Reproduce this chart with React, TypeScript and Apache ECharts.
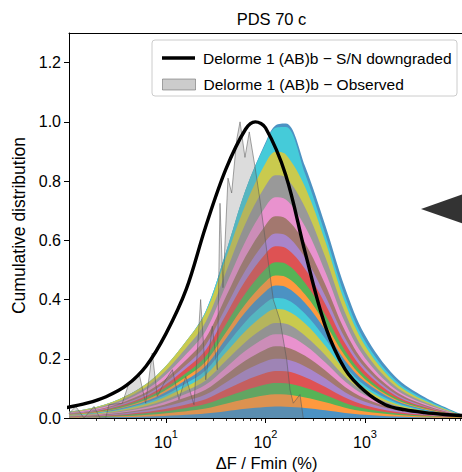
import React, { useEffect, useRef } from 'react';
import * as echarts from 'echarts';

const TITLE = 'PDS 70 c';
const X_LABEL = 'ΔF / Fmin (%)';
const Y_LABEL = 'Cumulative distribution';
const LEGEND_MODEL = 'Delorme 1 (AB)b − S/N downgraded';
const LEGEND_OBS = 'Delorme 1 (AB)b − Observed';

const X_MIN = 1.06;
const X_MAX = 9890;
const Y_MIN = 0;
const Y_MAX = 1.3;

const xMajorTicks = [10, 100, 1000];
const xMinorTicks = [
  2, 3, 4, 5, 6, 7, 8, 9,
  20, 30, 40, 50, 60, 70, 80, 90,
  200, 300, 400, 500, 600, 700, 800, 900,
  2000, 3000, 4000, 5000, 6000, 7000, 8000, 9000,
];
const yTicks = [0, 0.2, 0.4, 0.6, 0.8, 1.0, 1.2];

// Stacked cumulative tops of the 21 layers
const bandX = [1, 2, 4, 8, 16, 25, 40, 63, 100, 126, 160, 250, 400, 630, 1000, 2000, 4000, 10000];
const band01 = [0.001, 0.002, 0.003, 0.006, 0.011, 0.015, 0.023, 0.031, 0.037, 0.039, 0.038, 0.034, 0.026, 0.017, 0.011, 0.005, 0.002, 0.0];
const band02 = [0.002, 0.003, 0.007, 0.013, 0.023, 0.032, 0.048, 0.064, 0.077, 0.080, 0.079, 0.069, 0.053, 0.035, 0.022, 0.011, 0.005, 0.001];
const band03 = [0.003, 0.005, 0.010, 0.019, 0.034, 0.047, 0.071, 0.094, 0.113, 0.118, 0.117, 0.102, 0.078, 0.051, 0.032, 0.016, 0.008, 0.001];
const band04 = [0.004, 0.007, 0.013, 0.025, 0.046, 0.063, 0.096, 0.127, 0.152, 0.159, 0.158, 0.138, 0.105, 0.069, 0.043, 0.021, 0.010, 0.001];
const band05 = [0.004, 0.008, 0.017, 0.032, 0.058, 0.079, 0.120, 0.161, 0.192, 0.200, 0.198, 0.174, 0.133, 0.087, 0.055, 0.027, 0.013, 0.001];
const band06 = [0.005, 0.010, 0.020, 0.038, 0.070, 0.095, 0.145, 0.194, 0.231, 0.242, 0.239, 0.210, 0.160, 0.105, 0.066, 0.032, 0.016, 0.002];
const band07 = [0.006, 0.012, 0.024, 0.045, 0.082, 0.112, 0.170, 0.227, 0.271, 0.283, 0.280, 0.246, 0.187, 0.123, 0.077, 0.038, 0.018, 0.002];
const band08 = [0.007, 0.013, 0.027, 0.051, 0.093, 0.127, 0.193, 0.257, 0.307, 0.321, 0.318, 0.278, 0.212, 0.139, 0.087, 0.043, 0.021, 0.002];
const band09 = [0.008, 0.015, 0.031, 0.058, 0.106, 0.145, 0.221, 0.294, 0.352, 0.368, 0.364, 0.319, 0.243, 0.160, 0.100, 0.049, 0.024, 0.002];
const band10 = [0.009, 0.017, 0.034, 0.064, 0.117, 0.160, 0.244, 0.325, 0.388, 0.405, 0.401, 0.352, 0.268, 0.176, 0.110, 0.054, 0.026, 0.003];
const band11 = [0.010, 0.018, 0.037, 0.071, 0.129, 0.176, 0.268, 0.358, 0.427, 0.447, 0.442, 0.388, 0.296, 0.194, 0.122, 0.060, 0.029, 0.003];
const band12 = [0.011, 0.020, 0.040, 0.077, 0.139, 0.190, 0.289, 0.385, 0.460, 0.481, 0.476, 0.417, 0.318, 0.209, 0.131, 0.064, 0.031, 0.003];
const band13 = [0.012, 0.022, 0.044, 0.084, 0.152, 0.208, 0.316, 0.421, 0.503, 0.526, 0.521, 0.456, 0.348, 0.228, 0.143, 0.070, 0.034, 0.004];
const band14 = [0.013, 0.024, 0.048, 0.092, 0.168, 0.229, 0.348, 0.464, 0.555, 0.580, 0.574, 0.503, 0.384, 0.252, 0.158, 0.077, 0.037, 0.004];
const band15 = [0.014, 0.026, 0.052, 0.099, 0.180, 0.246, 0.374, 0.499, 0.596, 0.623, 0.617, 0.541, 0.412, 0.270, 0.170, 0.083, 0.040, 0.004];
const band16 = [0.015, 0.028, 0.057, 0.108, 0.197, 0.269, 0.409, 0.545, 0.651, 0.681, 0.674, 0.590, 0.450, 0.295, 0.185, 0.091, 0.044, 0.005];
const band17 = [0.017, 0.031, 0.062, 0.119, 0.216, 0.294, 0.448, 0.597, 0.713, 0.745, 0.738, 0.647, 0.493, 0.323, 0.203, 0.099, 0.048, 0.005];
const band18 = [0.018, 0.034, 0.068, 0.130, 0.237, 0.324, 0.492, 0.657, 0.784, 0.820, 0.812, 0.711, 0.543, 0.356, 0.223, 0.109, 0.053, 0.005];
const band19 = [0.020, 0.037, 0.075, 0.143, 0.260, 0.355, 0.540, 0.720, 0.860, 0.899, 0.890, 0.780, 0.595, 0.390, 0.245, 0.120, 0.058, 0.006];
const band20 = [0.020, 0.037, 0.075, 0.143, 0.260, 0.360, 0.560, 0.770, 0.925, 0.980, 0.983, 0.825, 0.620, 0.412, 0.260, 0.129, 0.063, 0.007];
const band21 = [0.020, 0.037, 0.075, 0.143, 0.260, 0.360, 0.560, 0.770, 0.930, 0.988, 0.994, 0.850, 0.650, 0.440, 0.280, 0.141, 0.070, 0.008];
const bands = [
  band01, band02, band03, band04, band05, band06, band07, band08, band09, band10, band11,
  band12, band13, band14, band15, band16, band17, band18, band19, band20, band21,
];

// S/N downgraded curve
const modelX = [1, 1.6, 2.5, 4, 6.3, 10, 16, 25, 40, 63, 79, 100, 160, 250, 400, 630, 1000, 1600, 2500, 4000, 6300, 10000];
const modelY = [0.035, 0.05, 0.072, 0.11, 0.175, 0.285, 0.435, 0.645, 0.84, 0.975, 1.0, 0.98, 0.82, 0.56, 0.31, 0.165, 0.09, 0.045, 0.028, 0.018, 0.012, 0.008];

// Observed distribution
const obsX = [1.06, 1.24, 1.5, 1.89, 2.17, 2.48, 2.67, 3.64, 4.25, 4.95, 5.35, 6.25, 7.28, 8.18, 9.93, 11.6, 13.5, 15.8, 19.1, 22.3, 25.1, 29.2, 32.8, 34.9, 37.4, 42.0, 45.7, 51.4, 55.5, 62.2, 68.7, 78.3, 88.0, 102.8, 119.8, 139.9, 163.4, 176.4, 190.3, 222.2, 239.8];
const obsY = [0.015, 0.039, 0.0, 0.039, 0.0, 0.0, 0.045, 0.05, 0.118, 0.129, 0.152, 0.05, 0.219, 0.073, 0.129, 0.163, 0.062, 0.14, 0.045, 0.40, 0.129, 0.31, 0.163, 0.725, 0.44, 0.81, 0.76, 0.94, 1.0, 0.88, 0.966, 0.85, 0.736, 0.567, 0.40, 0.33, 0.197, 0.095, 0.05, 0.079, 0.0];

// Arrow marker on the right edge
const markerX = [9890];
const markerY = [0.706];

const TAB10 = ['#1f77b4', '#ff7f0e', '#2ca02c', '#d62728', '#9467bd', '#8c564b', '#e377c2', '#7f7f7f', '#bcbd22', '#17becf'];
const FONT = 'Liberation Sans';

function blend(hex: string, alpha: number): string {
  const r = parseInt(hex.slice(1, 3), 16);
  const g = parseInt(hex.slice(3, 5), 16);
  const b = parseInt(hex.slice(5, 7), 16);
  const m = (c: number) => Math.round(c * alpha + 255 * (1 - alpha));
  return `rgb(${m(r)},${m(g)},${m(b)})`;
}

const lg = (v: number) => Math.log10(v);

export default function App() {
  const ref = useRef<HTMLDivElement>(null);

  useEffect(() => {
    if (!ref.current) return;
    const chart = echarts.init(ref.current, null, { renderer: 'svg' });

    const series: any[] = [];
    for (let k = bands.length - 1; k >= 0; k--) {
      series.push({
        type: 'line',
        name: `band${k + 1}`,
        data: bandX.map((x, i) => [lg(x), bands[k][i]]),
        symbol: 'none',
        showSymbol: false,
        smooth: 0.35,
        lineStyle: { width: 0, opacity: 0 },
        areaStyle: { color: blend(TAB10[k % 10], 0.8), opacity: 1 },
        silent: true,
        z: 2,
      });
    }
    series.push({
      type: 'line',
      name: LEGEND_OBS,
      data: obsX.map((x, i) => [lg(x), obsY[i]]),
      symbol: 'none',
      showSymbol: false,
      smooth: false,
      lineStyle: { color: 'rgba(90,90,90,0.55)', width: 1 },
      areaStyle: { color: 'rgba(128,128,128,0.4)' },
      silent: true,
      z: 3,
    });
    series.push({
      type: 'line',
      name: LEGEND_MODEL,
      data: modelX.map((x, i) => [lg(x), modelY[i]]),
      symbol: 'none',
      showSymbol: false,
      smooth: 0.35,
      lineStyle: { color: '#000', width: 3.4 },
      silent: true,
      z: 4,
    });
    series.push({
      type: 'scatter',
      data: markerX.map((x, i) => [lg(x), markerY[i]]),
      symbol: 'triangle',
      symbolSize: [60, 86],
      symbolRotate: 90,
      itemStyle: { color: '#000' },
      clip: false,
      silent: true,
      z: 5,
    });

    const axisLine = { show: true, lineStyle: { color: '#000', width: 1 } };
    const xMin = lg(X_MIN);
    const xMax = lg(X_MAX);

    chart.setOption({
      animation: false,
      textStyle: { fontFamily: FONT },
      title: {
        text: TITLE,
        left: 266.5,
        top: 5,
        textAlign: 'center',
        textStyle: { fontSize: 16.5, fontWeight: 'normal', color: '#000', fontFamily: FONT },
      },
      grid: { left: 69, right: -2, top: 33, bottom: 54, containLabel: false, outerBoundsMode: 'none' },
      xAxis: [
        {
          type: 'value',
          min: xMin,
          max: xMax,
          position: 'bottom',
          name: X_LABEL,
          nameLocation: 'middle',
          nameGap: 31,
          nameTextStyle: { fontSize: 16.5, lineHeight: 17, color: '#000', fontFamily: FONT },
          axisLine,
          axisTick: { show: true, customValues: xMajorTicks.map(lg), length: 5, lineStyle: { color: '#000', width: 1 } },
          axisLabel: {
            customValues: xMajorTicks.map(lg),
            margin: 10,
            formatter: (v: number) => `{b|10}{s|${Math.round(v)}}`,
            rich: {
              b: { fontSize: 16, color: '#000', fontFamily: FONT, verticalAlign: 'bottom', lineHeight: 22 },
              s: { fontSize: 11, color: '#000', fontFamily: FONT, verticalAlign: 'top', lineHeight: 22 },
            },
          },
          splitLine: { show: false },
        },
        {
          type: 'value',
          min: xMin,
          max: xMax,
          position: 'bottom',
          axisLine: { show: false },
          axisTick: { show: true, customValues: xMinorTicks.map(lg), length: 3, lineStyle: { color: '#000', width: 0.8 } },
          axisLabel: { show: false },
          splitLine: { show: false },
        },
        {
          type: 'value',
          min: xMin,
          max: xMax,
          position: 'top',
          axisLine,
          axisTick: { show: false },
          axisLabel: { show: false },
          splitLine: { show: false },
        },
      ],
      yAxis: {
        type: 'value',
        min: Y_MIN,
        max: Y_MAX,
        name: Y_LABEL,
        nameLocation: 'middle',
        nameGap: 33,
        nameRotate: 90,
        nameTextStyle: { fontSize: 17.5, color: '#000', fontFamily: FONT },
        axisLine,
        axisTick: { show: true, customValues: yTicks, length: 5, lineStyle: { color: '#000', width: 1 } },
        axisLabel: {
          customValues: yTicks,
          formatter: (v: number) => v.toFixed(1),
          fontSize: 16,
          color: '#000',
          fontFamily: FONT,
          margin: 8,
        },
        splitLine: { show: false },
      },
      legend: [
        {
          data: [{ name: LEGEND_MODEL, icon: 'rect', itemStyle: { color: '#000', borderWidth: 0 } }],
          left: 157,
          top: 45,
          itemWidth: 33,
          itemHeight: 3.5,
          selectedMode: false,
          textStyle: { fontSize: 15.5, color: '#000', fontFamily: FONT, padding: [0, 0, 0, 3] },
          z: 10,
        },
        {
          data: [{ name: LEGEND_OBS, icon: 'rect', itemStyle: { color: 'rgba(128,128,128,0.4)', borderColor: 'rgba(90,90,90,0.5)', borderWidth: 1 } }],
          left: 157,
          top: 71.5,
          itemWidth: 33,
          itemHeight: 11,
          selectedMode: false,
          textStyle: { fontSize: 15.5, color: '#000', fontFamily: FONT, padding: [0, 0, 0, 3] },
          z: 10,
        },
      ],
      graphic: [
        {
          type: 'rect',
          shape: { x: 152, y: 40, width: 305, height: 56, r: 3 },
          style: { fill: 'rgba(255,255,255,0.8)', stroke: '#cccccc', lineWidth: 1 },
          z: 9,
        },
      ],
      series,
    });

    return () => chart.dispose();
  }, []);

  return (
    <div
      ref={ref}
      style={{ position: 'absolute', left: 0, top: 0, width: 462, height: 472 }}
    />
  );
}
